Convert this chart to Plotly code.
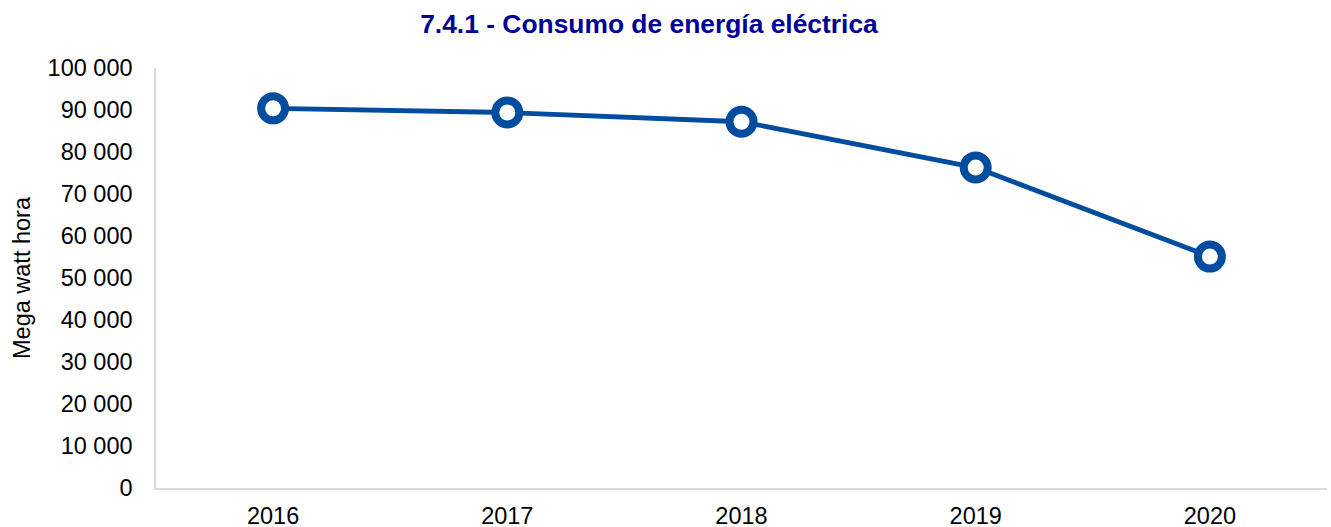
import plotly.graph_objects as go

years = ["2016", "2017", "2018", "2019", "2020"]
consumo_mwh = [90400, 89400, 87200, 76300, 55100]

y_ticks = [0, 10000, 20000, 30000, 40000, 50000, 60000, 70000, 80000, 90000, 100000]

line_color = "#004C9E"
font_family = "Liberation Sans, Arial, sans-serif"

fig = go.Figure()
fig.add_trace(go.Scatter(
    x=years, y=consumo_mwh, mode="lines+markers",
    line=dict(color=line_color, width=4.8),
    marker=dict(size=24, color="white", line=dict(color=line_color, width=8)),
    showlegend=False,
))

fig.update_layout(
    width=1331, height=527,
    margin=dict(l=156, r=4, t=68, b=39),
    paper_bgcolor="white", plot_bgcolor="white",
    separators=", ",
    font=dict(family=font_family, size=23.5, color="black"),
    title=dict(text="<b>7.4.1 - Consumo de energía eléctrica</b>",
               font=dict(size=26.4, color="#000099", family=font_family),
               x=649/1331, xanchor="center", y=1 - 24/527, yanchor="middle"),
)
fig.update_xaxes(
    type="category", range=[-0.5, 4.5], automargin=False,
    showline=True, linecolor="#D9D9D9", linewidth=1.5,
    showgrid=False, ticks="", ticklabelstandoff=6,
    tickfont=dict(size=23.5),
)
fig.update_yaxes(
    range=[0, 100000], tickvals=y_ticks, tickformat=",d", automargin=False,
    showline=True, linecolor="#D9D9D9", linewidth=1.5,
    showgrid=False, zeroline=False, ticks="", ticklabelstandoff=17,
    tickfont=dict(size=23.5),
    title=dict(text="Mega watt hora", font=dict(size=23.5), standoff=10),
)

fig.write_html("out.html", config={"displayModeBar": False},
               post_script="document.body.style.margin='0';document.body.style.overflow='hidden';")
